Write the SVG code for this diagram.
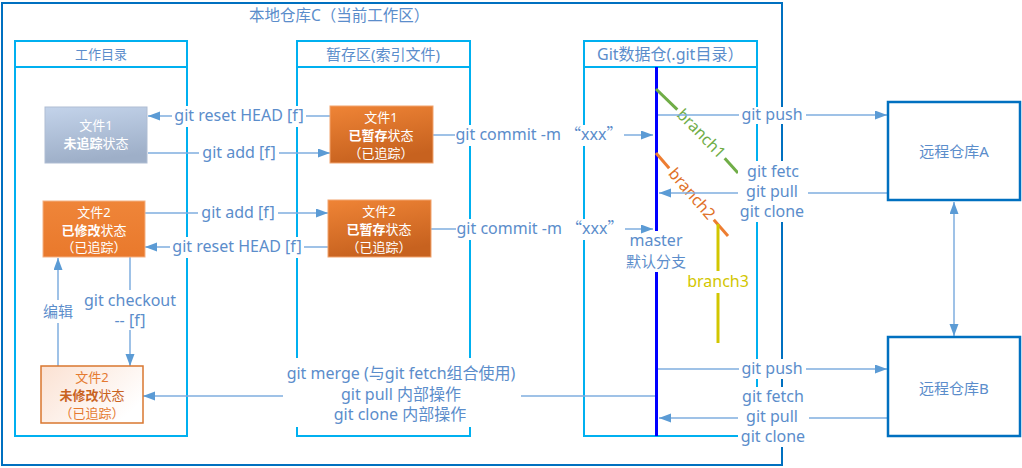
<svg xmlns="http://www.w3.org/2000/svg" width="1022" height="468" viewBox="0 0 1022 468">
<style>
text{font-family:'Noto Sans','Noto Sans CJK SC',sans-serif;}
.lb{fill:#5B8DCB;font-size:16px;text-anchor:middle;}
.cn{font-size:15px;}
.wt{fill:#fff;font-size:13px;text-anchor:middle;}
.bd{font-weight:bold;}
.panel{fill:none;stroke:#00B0F0;stroke-width:2;}
.frame{fill:none;stroke:#0070C0;stroke-width:2;}
.remote{fill:#fff;stroke:#0070C0;stroke-width:2.5;}
.con{fill:none;stroke:#7FAEDF;stroke-width:1.5;}
.arr{marker-end:url(#ah);}
.bg{fill:#fff;}
.q{font-family:'Noto Sans CJK SC',sans-serif;}
</style>
<defs>
<marker id="ah" markerUnits="userSpaceOnUse" markerWidth="13" markerHeight="10" refX="12" refY="4.5" orient="auto-start-reverse">
<path d="M0,0 L12,4.5 L0,9 z" fill="#5B9BD5"/>
</marker>
<linearGradient id="gOr" x1="0" y1="0" x2="0.3" y2="1">
<stop offset="0" stop-color="#EF8436"/>
<stop offset="1" stop-color="#C7621F"/>
</linearGradient>
<linearGradient id="gOr2" x1="0" y1="0" x2="0" y2="1">
<stop offset="0" stop-color="#EF8539"/>
<stop offset="1" stop-color="#E9792C"/>
</linearGradient>
<linearGradient id="gBl" x1="0" y1="0" x2="0.2" y2="1">
<stop offset="0" stop-color="#C3D3EA"/>
<stop offset="1" stop-color="#9EAFC8"/>
</linearGradient>
<linearGradient id="gPk" x1="0" y1="0" x2="1" y2="0.6">
<stop offset="0" stop-color="#FBE1D2"/>
<stop offset="1" stop-color="#FFFFFF"/>
</linearGradient>
</defs>
<rect width="1022" height="468" fill="#fff"/>

<g id="local-repo">
<rect class="frame" x="2" y="3" width="780" height="462"/>
<text x="249" y="21" font-size="15.5" fill="#5B8DCB">本地仓库C（当前工作区）</text>
</g>

<g id="panel-workdir">
<rect class="panel" x="15" y="41" width="172" height="395"/>
<line class="panel" x1="15" y1="67" x2="187" y2="67"/>
<text x="101" y="59" font-size="13" fill="#5B8DCB" text-anchor="middle">工作目录</text>
</g>
<g id="panel-stage">
<rect class="panel" x="297" y="41" width="173" height="395"/>
<line class="panel" x1="297" y1="67" x2="470" y2="67"/>
<text x="383" y="60" class="cn" fill="#5B8DCB" text-anchor="middle">暂存区(索引文件)</text>
</g>
<g id="panel-git">
<rect class="panel" x="584" y="41" width="173" height="395"/>
<line class="panel" x1="584" y1="67" x2="757" y2="67"/>
<text x="597" y="60" font-size="16" fill="#5B8DCB">Git数据仓(.git目录）</text>
</g>

<g id="branches">
<line x1="656.5" y1="67" x2="656.5" y2="231" stroke="#0000FF" stroke-width="3"/>
<line x1="656.5" y1="272" x2="656.5" y2="436" stroke="#0000FF" stroke-width="3"/>
<text x="656" y="246" class="lb">master</text>
<text x="656" y="267" class="lb cn">默认分支</text>
<line x1="656" y1="89" x2="677.3" y2="109.7" stroke="#70AD47" stroke-width="3"/>
<line x1="724.7" y1="158.3" x2="738" y2="173" stroke="#70AD47" stroke-width="3"/>
<text transform="translate(701,134) rotate(45.7)" x="0" y="5" font-size="16" fill="#70AD47" text-anchor="middle">branch1</text>
<line x1="656" y1="153" x2="669.2" y2="168.3" stroke="#ED7D31" stroke-width="3"/>
<line x1="713.8" y1="219.7" x2="728" y2="236" stroke="#ED7D31" stroke-width="3"/>
<text transform="translate(691.5,194) rotate(49)" x="0" y="5" font-size="16" fill="#E07128" text-anchor="middle">branch2</text>
<line x1="718" y1="224" x2="718" y2="271" stroke="#D2C600" stroke-width="3"/>
<line x1="718" y1="293" x2="718" y2="343" stroke="#D2C600" stroke-width="3"/>
<text x="718" y="287" font-size="16" fill="#D2C600" text-anchor="middle">branch3</text>
</g>

<g id="connectors">
<path class="con arr" d="M330,116 H148"/>
<path class="con arr" d="M148,153 H330"/>
<path class="con arr" d="M145,213 H328"/>
<path class="con arr" d="M328,247 H145"/>
<path class="con arr" d="M433,135 H653"/>
<path class="con arr" d="M431,229 H653"/>
<path class="con arr" d="M658,115 H887"/>
<path class="con arr" d="M887,193 H659"/>
<path class="con arr" d="M658,369 H887"/>
<path class="con arr" d="M887,418 H659"/>
<path class="con arr" d="M655,396 H143"/>
<path class="con arr" d="M58,366 V258"/>
<path class="con arr" d="M130,257 V366"/>
<path class="con" d="M954,202 V336" marker-start="url(#ah)" marker-end="url(#ah)"/>

<rect class="bg" x="172" y="106" width="134" height="21"/>
<text x="239" y="121" class="lb">git reset HEAD [f]</text>
<rect class="bg" x="199" y="143" width="80" height="21"/>
<text x="239" y="158" class="lb">git add [f]</text>
<rect class="bg" x="198" y="203" width="80" height="21"/>
<text x="238" y="218" class="lb">git add [f]</text>
<rect class="bg" x="170" y="237" width="134" height="21"/>
<text x="237" y="252" class="lb">git reset HEAD [f]</text>
<rect class="bg" x="455" y="125" width="169" height="21"/>
<text x="539" y="140" class="lb">git commit -m <tspan class="q">“</tspan>xxx<tspan class="q">”</tspan></text>
<rect class="bg" x="456" y="219" width="169" height="21"/>
<text x="540" y="234" class="lb">git commit -m <tspan class="q">“</tspan>xxx<tspan class="q">”</tspan></text>

<rect class="bg" x="739" y="107" width="67" height="17"/>
<text x="772" y="120" class="lb">git push</text>
<rect class="bg" x="738" y="161" width="70" height="61"/>
<text x="773" y="177" class="lb">git fetc</text>
<text x="772" y="197" class="lb">git pull</text>
<text x="772" y="217" class="lb">git clone</text>

<rect class="bg" x="739" y="359" width="67" height="20"/>
<text x="772" y="374" class="lb">git push</text>
<rect class="bg" x="738" y="387" width="71" height="60"/>
<text x="773" y="402" class="lb">git fetch</text>
<text x="772" y="422" class="lb">git pull</text>
<text x="773" y="442" class="lb">git clone</text>

<rect class="bg" x="283" y="358" width="238" height="69"/>
<text x="401" y="379" class="lb">git merge (与git fetch组合使用)</text>
<text x="401" y="400" class="lb">git pull 内部操作</text>
<text x="400" y="420" class="lb">git clone 内部操作</text>

<rect class="bg" x="40" y="300" width="36" height="23"/>
<text x="58" y="317" class="lb cn">编辑</text>
<rect class="bg" x="82" y="290" width="96" height="40"/>
<text x="130" y="306" class="lb">git checkout</text>
<text x="130" y="326" class="lb">-- [f]</text>
</g>

<g id="file1-untracked">
<rect x="45" y="107" width="102" height="56" fill="url(#gBl)" stroke="#AFBDD3" stroke-width="1"/>
<text x="96" y="130" class="wt">文件1</text>
<text x="96" y="148" class="wt"><tspan class="bd">未追踪</tspan>状态</text>
</g>
<g id="file1-staged">
<rect x="330" y="106" width="103" height="57" fill="url(#gOr)" stroke="#F2A46E" stroke-width="1"/>
<text x="381" y="122" class="wt">文件1</text>
<text x="381" y="140" class="wt"><tspan class="bd">已暂存</tspan>状态</text>
<text x="381" y="158" class="wt">（已追踪）</text>
</g>
<g id="file2-staged">
<rect x="328" y="200" width="103" height="57" fill="url(#gOr)" stroke="#F2A46E" stroke-width="1"/>
<text x="379" y="216" class="wt">文件2</text>
<text x="379" y="234" class="wt"><tspan class="bd">已暂存</tspan>状态</text>
<text x="379" y="252" class="wt">（已追踪）</text>
</g>
<g id="file2-modified">
<rect x="43" y="201" width="102" height="56" fill="url(#gOr2)" stroke="#F4B183" stroke-width="1"/>
<text x="94" y="217" class="wt">文件2</text>
<text x="94" y="235" class="wt"><tspan class="bd">已修改</tspan>状态</text>
<text x="94" y="252" class="wt">（已追踪）</text>
</g>
<g id="file2-unmodified">
<rect x="41" y="366" width="102" height="57" fill="url(#gPk)" stroke="#D9772F" stroke-width="1.5"/>
<text x="92" y="382" font-size="13" fill="#E57A30" text-anchor="middle">文件2</text>
<text x="92" y="400" font-size="13" fill="#C9631F" text-anchor="middle"><tspan class="bd">未修改</tspan>状态</text>
<text x="92" y="418" font-size="13" fill="#E57A30" text-anchor="middle">（已追踪）</text>
</g>

<g id="remote-a">
<rect class="remote" x="888" y="102" width="132" height="98"/>
<text x="954" y="157" class="lb cn">远程仓库A</text>
</g>
<g id="remote-b">
<rect class="remote" x="888" y="337" width="132" height="99"/>
<text x="954" y="394" class="lb cn">远程仓库B</text>
</g>
</svg>
